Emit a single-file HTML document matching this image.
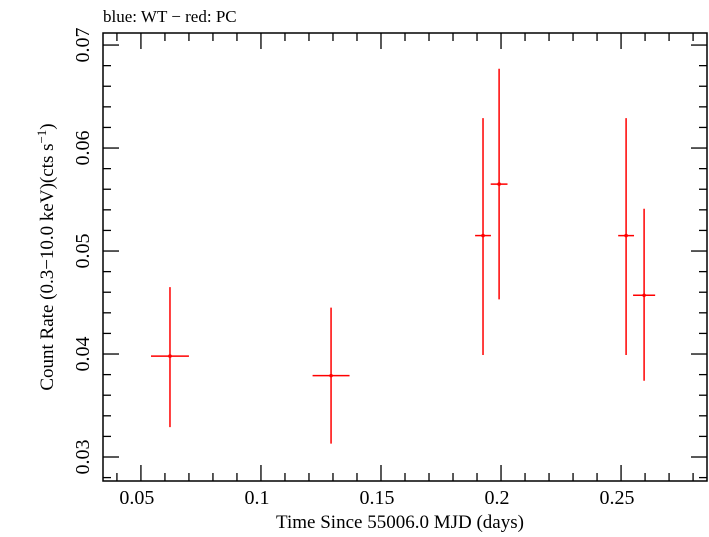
<!DOCTYPE html>
<html><head><meta charset="utf-8"><style>
body{margin:0;background:#fff;}
svg text{font-family:"Liberation Serif",serif;fill:#000;}
</style></head><body>
<svg id="c" width="709" height="532" xmlns="http://www.w3.org/2000/svg">
<text x="103" y="22" font-size="17">blue: WT − red: PC</text>
<text x="400" y="528" font-size="19" text-anchor="middle">Time Since 55006.0 MJD (days)</text>
<text transform="translate(53,257) rotate(-90)" font-size="19" text-anchor="middle">Count Rate (0.3−10.0 keV)(cts s<tspan dy="-7" font-size="13">−1</tspan><tspan dy="7">)</tspan></text>
<g id="axes"></g><g id="marks"></g>
</svg>
<script>
const timeVals=[0.0621,0.1292,0.1925,0.1992,0.2521,0.2596];
const timeErr=[0.0079,0.0077,0.0033,0.0035,0.0033,0.0046];
const rateVals=[0.0398,0.0379,0.0515,0.0565,0.0515,0.0457];
const rateHi=[0.0465,0.0445,0.0629,0.0677,0.0629,0.0541];
const rateLo=[0.0329,0.0313,0.0399,0.0453,0.0399,0.0374];
const xTicks=["0.05","0.1","0.15","0.2","0.25"];
const yTicks=["0.03","0.04","0.05","0.06","0.07"];
const L=103,R=707,T=33,B=481;
const xMin=0.0342,xMax=0.2858,yMin=0.02767,yMax=0.07117;
const X=v=>L+(v-xMin)/(xMax-xMin)*(R-L);
const Y=v=>B-(v-yMin)/(yMax-yMin)*(B-T);
const NS="http://www.w3.org/2000/svg";
function mk(p,t,a){const e=document.createElementNS(NS,t);for(const k in a)e.setAttribute(k,a[k]);p.appendChild(e);return e;}
const ax=document.getElementById('axes');
const fr=mk(ax,'rect',{x:L,y:T,width:R-L,height:B-T,fill:'none',stroke:'#000','stroke-width':1.5});

for(let i=4;i<=28;i++){const v=i/100;const x=X(v);if(x<L||x>R)continue;const maj=i%5==0;const len=maj?16:8;
mk(ax,'line',{x1:x,x2:x,y1:B,y2:B-len,stroke:'#000','stroke-width':1.3});
mk(ax,'line',{x1:x,x2:x,y1:T,y2:T+len,stroke:'#000','stroke-width':1.3});}
xTicks.forEach(s=>{const t=mk(ax,'text',{x:X(parseFloat(s))-4,y:504,'font-size':20,'text-anchor':'middle'});t.textContent=s;
});
for(let i=14;i<=35;i++){const v=i*0.002;const y=Y(v);if(y<T||y>B)continue;const maj=i%5==0;const len=maj?16:8;
mk(ax,'line',{x1:L,x2:L+len,y1:y,y2:y,stroke:'#000','stroke-width':1.3});
mk(ax,'line',{x1:R,x2:R-len,y1:y,y2:y,stroke:'#000','stroke-width':1.3});}
yTicks.forEach(s=>{const y=Y(parseFloat(s));const t=mk(ax,'text',{transform:`translate(89,${y}) rotate(-90)`,'font-size':20,'text-anchor':'middle'});t.textContent=s;
});
const mg=document.getElementById('marks');
timeVals.forEach((t,i)=>{const g=mk(mg,'g',{stroke:'#f00','stroke-width':1.5});

mk(g,'line',{x1:X(t-timeErr[i]),x2:X(t+timeErr[i]),y1:Y(rateVals[i]),y2:Y(rateVals[i])});
mk(g,'line',{x1:X(t),x2:X(t),y1:Y(rateHi[i]),y2:Y(rateLo[i])});
mk(g,'circle',{cx:X(t),cy:Y(rateVals[i]),r:1.8,fill:'#f00',stroke:'none'});});
</script>
</body></html>
